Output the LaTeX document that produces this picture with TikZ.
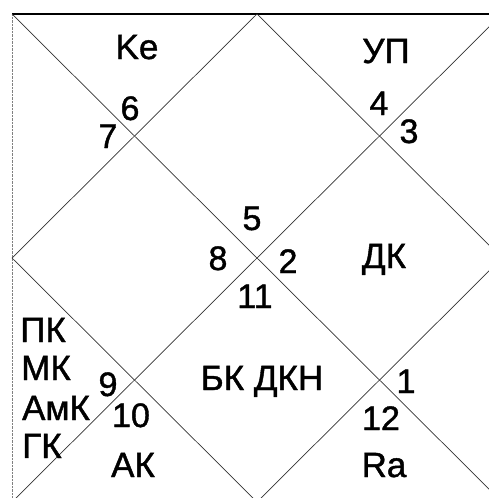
\documentclass[tikz,border=0pt]{standalone}
\usepackage{fontspec}
\setmainfont[FakeBold=1.2]{Liberation Sans}
\usetikzlibrary{calc}
\usetikzlibrary{positioning}

\begin{document}
\begin{tikzpicture}[x=1pt,y=-1pt,
	  house node/.style={font=\fontsize{35}{38}\selectfont, inner sep=0pt, anchor=base},
	  sign node/.style={font=\fontsize{34}{36}\selectfont, inner sep=0pt, anchor=base},
	  chart line/.style={line width=0.7pt, black!80}]
	
	 \useasboundingbox (0,0) rectangle (489,498);
	 \clip (0,0) rectangle (489,498);
	
	 % corners of the chart
	 \coordinate (tl) at (12,14);
	 \coordinate (tr) at (502,14);
	 \coordinate (bl) at (12,502);
	 \coordinate (br) at (502,502);
	 \coordinate (top) at ($ (tl)!0.5!(tr) $);
	 \coordinate (bot) at ($ (bl)!0.5!(br) $);
	 \coordinate (lft) at ($ (tl)!0.5!(bl) $);
	 \coordinate (rgt) at ($ (tr)!0.5!(br) $);
	
	 \draw[line width=1.6pt] (tl) -- (tr);
	 \draw[densely dotted, gray] (tl) -- (bl);
	 \draw[chart line] (tl) -- (br);
	 \draw[chart line] (tr) -- (bl);
	 \draw[chart line] (top) -- (rgt) -- (bot) -- (lft) -- cycle;
	
	 % planets
	 \node[house node] (ke) at (137,59) {Ke};
	 \node[house node] (up) at (386,63) {УП};
	 \node[house node] (dk) at (384,268) {ДК};
	 \node[house node] (bk) at (262,390) {БК ДКН};
	 \node[house node] (pk) at (43,342) {ПК};
	 \node[house node] (mk) at (46,380) {МК};
	 \node[house node] (amk) at (56,420) {АмК};
	 \node[house node] (gk) at (42,458) {ГК};
	 \node[house node] (ak) at (133,477) {АК};
	 \node[house node] (ra) at (384,477) {Ra};
	
	 % sign numbers
	 \node[sign node] (s6) at (130,120) {6};
	 \node[sign node] (s7) at (108,148) {7};
	 \node[sign node] (s4) at (379,115) {4};
	 \node[sign node] (s3) at (409,143) {3};
	 \node[sign node] (s5) at (252,230) {5};
	 \node[sign node] (s8) at (218,270) {8};
	 \node[sign node] (s2) at (288,273) {2};
	 \node[sign node] (s11) at (255,308) {11};
	 \node[sign node] (s9) at (108,396) {9};
	 \node[sign node] (s10) at (131,427) {10};
	 \node[sign node] (s1) at (406,393) {1};
	 \node[sign node] (s12) at (381,430) {12};
	\end{tikzpicture}
\end{document}
